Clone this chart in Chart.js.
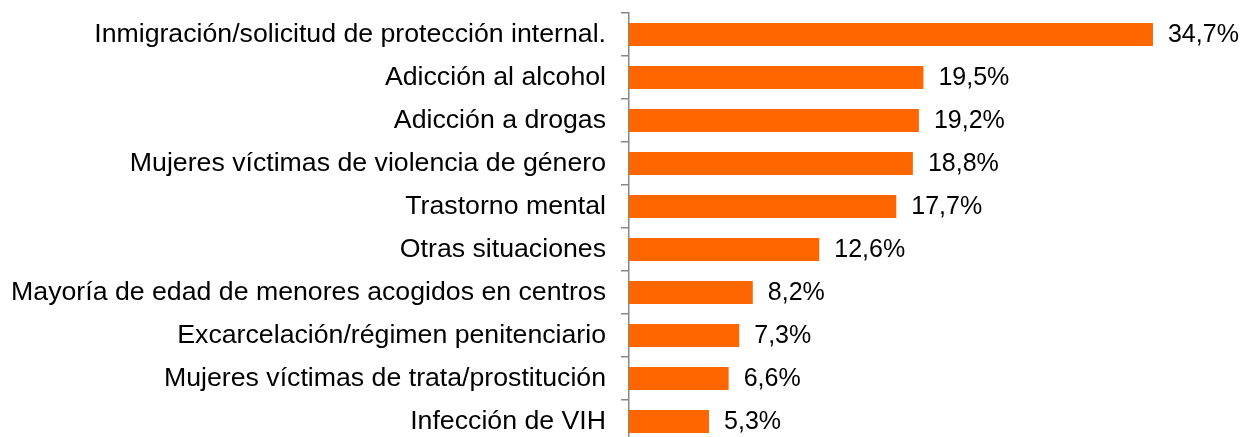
<!DOCTYPE html>
<html>
<head>
<meta charset="utf-8">
<script src="https://cdn.jsdelivr.net/npm/chart.js@4/dist/chart.umd.min.js"></script>
<style>
  html, body { margin: 0; padding: 0; background: #fff; overflow: hidden; }
  #wrap { width: 1246px; height: 437px; overflow: hidden; }
</style>
</head>
<body>
<div id="wrap"><canvas id="chart" width="1246" height="443"></canvas></div>
<script>
// categorías y valores (%)
const categories = [
  'Inmigración/solicitud de protección internal.',
  'Adicción al alcohol',
  'Adicción a drogas',
  'Mujeres víctimas de violencia de género',
  'Trastorno mental',
  'Otras situaciones',
  'Mayoría de edad de menores acogidos en centros',
  'Excarcelación/régimen penitenciario',
  'Mujeres víctimas de trata/prostitución',
  'Infección de VIH'
];
const values = [34.7, 19.5, 19.2, 18.8, 17.7, 12.6, 8.2, 7.3, 6.6, 5.3];

const fontFamily = '"Liberation Sans", Arial, sans-serif';

// etiquetas de valor a la derecha de cada barra
const valueLabels = {
  id: 'valueLabels',
  afterDatasetsDraw(chart) {
    const ctx = chart.ctx;
    const meta = chart.getDatasetMeta(0);
    ctx.save();
    ctx.font = '25px ' + fontFamily;
    ctx.fillStyle = '#000';
    ctx.textAlign = 'left';
    ctx.textBaseline = 'middle';
    meta.data.forEach((bar, i) => {
      const txt = values[i].toFixed(1).replace('.', ',') + '%';
      ctx.fillText(txt, bar.x + 15, bar.y + 1);
    });
    ctx.restore();
  }
};

new Chart(document.getElementById('chart'), {
  type: 'bar',
  data: {
    labels: categories,
    datasets: [{
      data: values,
      backgroundColor: '#FF6600',
      borderWidth: 0,
      categoryPercentage: 1,
      barPercentage: 0.54
    }]
  },
  options: {
    indexAxis: 'y',
    responsive: false,
    animation: false,
    devicePixelRatio: 1,
    layout: { padding: { top: 13, right: 13, bottom: 0, left: 0 } },
    plugins: {
      legend: { display: false },
      tooltip: { enabled: false }
    },
    scales: {
      x: {
        display: false,
        min: 0,
        max: 40
      },
      y: {
        afterFit(scale) {
          scale.width = 629;
          scale.paddingTop = 0;
          scale.paddingBottom = 0;
        },
        border: { display: true, color: '#888', width: 1.5 },
        grid: {
          offset: true,
          drawOnChartArea: false,
          color: '#888',
          lineWidth: 1.5,
          tickLength: 8
        },
        ticks: {
          padding: 15,
          color: '#000',
          font: { family: fontFamily, size: 26.7 }
        }
      }
    }
  },
  plugins: [valueLabels]
});
</script>
</body>
</html>
